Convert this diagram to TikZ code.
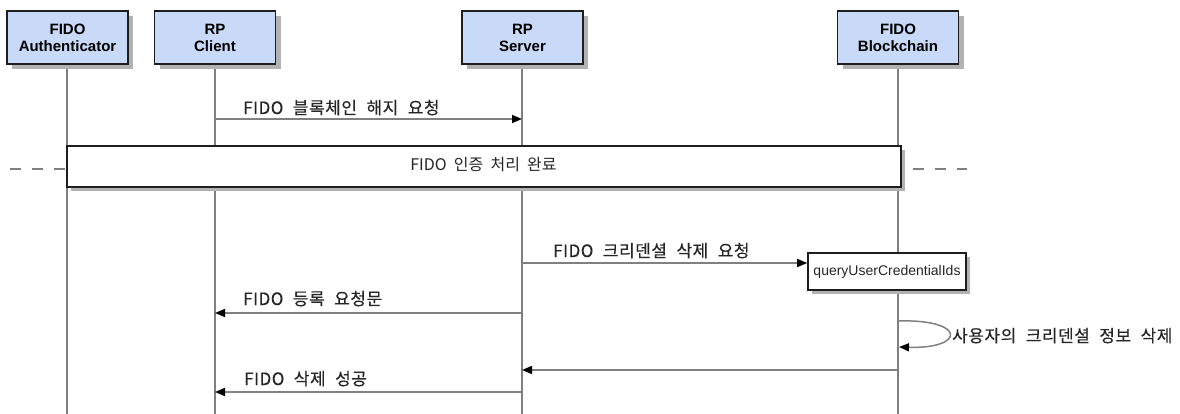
\documentclass[tikz,border=0pt]{standalone}
\usepackage{fontspec}
\setmainfont{Liberation Sans}
\newfontfamily\krd[WordSpace=2]{Noto Sans CJK KR}
\newfontfamily\krb[WordSpace=2.2,LetterSpace=3,FakeBold=0.3]{Noto Sans CJK KR}
\usetikzlibrary{arrows.meta,shadows}
\definecolor{partfill}{RGB}{201,218,248}
\definecolor{shadowgray}{RGB}{178,178,178}
\definecolor{linegray}{RGB}{128,128,128}
\definecolor{boxline}{RGB}{30,30,30}
\tikzset{
  part/.style={draw=boxline, line width=1.6pt, fill=partfill, minimum width=121pt, minimum height=53pt,
    align=center, inner sep=0pt, font=\fontsize{15}{17}\selectfont\bfseries,
    drop shadow={shadow xshift=5pt, shadow yshift=-5pt, fill=shadowgray, opacity=1}},
  life/.style={draw=linegray, line width=1.5pt},
  msg/.style={draw=linegray, line width=1.5pt, -{Triangle[length=10pt,width=8pt,color=black]}},
  lbl/.style={font=\krb\fontsize{17}{19}\selectfont, anchor=base west, inner sep=0pt, text=black!85},
  divbox/.style={draw=boxline, line width=1.6pt, fill=white, inner sep=0pt,
    drop shadow={shadow xshift=4pt, shadow yshift=-4pt, fill=shadowgray, opacity=1}},
  actbox/.style={draw=boxline, line width=1.6pt, fill=white, inner sep=0pt,
    font=\fontsize{14}{16}\selectfont, text=black!85,
    drop shadow={shadow xshift=4pt, shadow yshift=-4pt, fill=shadowgray, opacity=1}},
  sep/.style={draw=linegray, line width=2pt, dash pattern=on 11pt off 11pt},
}
\begin{document}
\begin{tikzpicture}[x=1pt,y=-1pt]
\useasboundingbox (0,0) rectangle (1180,414);
% lifeline bottoms
\coordinate (aB) at (67,414);
\coordinate (cB) at (215,414);
\coordinate (sB) at (522,414);
\coordinate (bB) at (898,414);
\draw[life] (67,40) -- (aB);
\draw[life] (215,40) -- (cB);
\draw[life] (522,40) -- (sB);
\draw[life] (898,40) -- (bB);
% participants
\node[part] (auth) at (67.5,37.5) {FIDO\\Authenticator};
\node[part] (client) at (215,37.5) {RP\\Client};
\node[part] (server) at (522.5,37.5) {RP\\Server};
\node[part] (chain) at (898,37.5) {FIDO\\Blockchain};
% message 1
\coordinate (m1a) at (215,119);
\coordinate (m1b) at (522,119);
\draw[msg] (m1a) -- (m1b);
\node[lbl] (l1) at (243,114) {FIDO 블록체인 해지 요청};
% divider
\node[divbox, minimum width=834pt, minimum height=41pt] (div) at (484,166.5) {};
\node[font=\krd\fontsize{16}{18}\selectfont, text=black!85, anchor=base, inner sep=0pt] (divt) at (483.5,171) {FIDO 인증 처리 완료};
\coordinate (dl) at (10,169);
\coordinate (dr) at (967,169);
\draw[sep] (dl) -- (dl -| div.west);
\draw[sep] ([xshift=11pt]div.east |- dr) -- (dr);
% message 2 and activation box
\node[actbox, minimum width=158pt, minimum height=37pt] (q) at (887,271.5) {queryUserCredentialIds};
\coordinate (m2a) at (522,263);
\draw[msg] (m2a) -- (m2a -| q.west);
\node[lbl] (l2) at (553,257) {FIDO 크리덴셜 삭제 요청};
% message 3
\coordinate (m3a) at (522,313);
\coordinate (m3b) at (215,313);
\draw[msg] (m3a) -- (m3b);
\node[lbl] (l3) at (243,305) {FIDO 등록 요청문};
% self loop
\coordinate (s1) at (899,321);
\coordinate (s2) at (899,347);
\draw[msg] (s1) .. controls (966,319) and (966,349) .. (s2);
\node[lbl] (l4) at (952,342) {사용자의 크리덴셜 정보 삭제};
% message 4
\coordinate (m4a) at (898,370);
\coordinate (m4b) at (522,370);
\draw[msg] (m4a) -- (m4b);
% message 5
\coordinate (m5a) at (522,392);
\coordinate (m5b) at (215,392);
\draw[msg] (m5a) -- (m5b);
\node[lbl] (l5) at (244,385) {FIDO 삭제 성공};
\end{tikzpicture}
\end{document}
